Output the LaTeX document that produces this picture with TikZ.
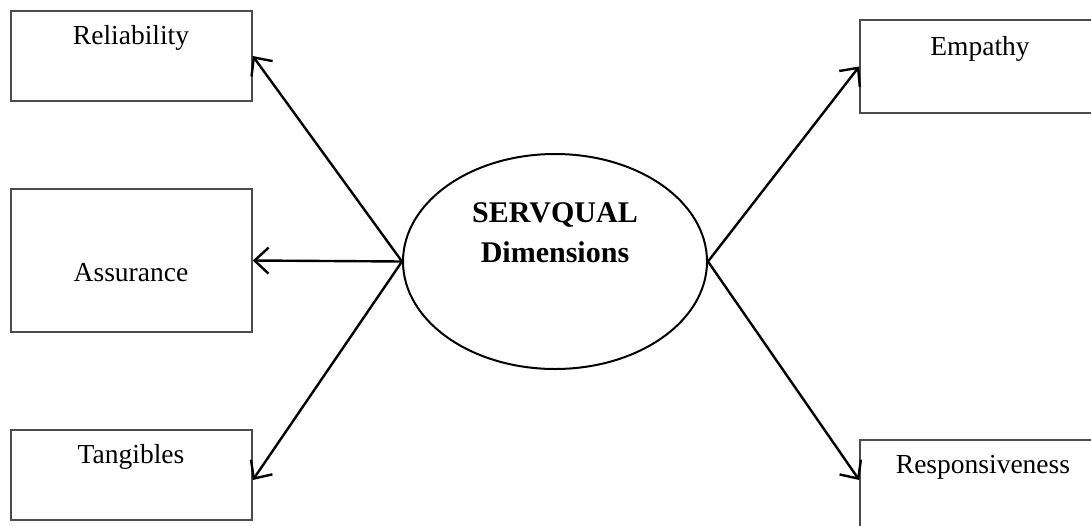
\documentclass[tikz,border=0pt]{standalone}
\usepackage{fontspec}
\setmainfont{Liberation Serif}
\usetikzlibrary{shapes.geometric,arrows.meta}
\begin{document}
\begin{tikzpicture}[x=1pt,y=-1pt,
  box/.style={draw=black!70,line width=1.6pt,rectangle,inner sep=0pt},
  lbl/.style={font=\fontsize{27.5}{30}\selectfont,inner sep=0pt},
  blbl/.style={font=\fontsize{30}{34}\bfseries\selectfont,inner sep=0pt},
  conn/.style={draw=black,line width=2.4pt,-{Straight Barb[length=14pt,width=26pt,line width=2.4pt]}}]
\useasboundingbox (0,0) rectangle (1091,525);
\clip (0,0) rectangle (1091,525);
% boxes
\node[box,minimum width=241pt,minimum height=90pt] (rel) at (131.5,56) {};
\node[box,minimum width=241pt,minimum height=143pt] (ass) at (131.5,260.5) {};
\node[box,minimum width=241pt,minimum height=90pt] (tan) at (131.5,475) {};
\node[box,minimum width=240pt,minimum height=93pt] (emp) at (980,66.5) {};
\node[box,minimum width=240pt,minimum height=120pt] (res) at (980,500) {};
% labels
\node[lbl] (trel) at (131,38) {Reliability};
\node[lbl] (tass) at (131,273) {Assurance};
\node[lbl] (ttan) at (131,457) {Tangibles};
\node[lbl] (temp) at (980,49) {Empathy};
\node[lbl] (tres) at (983,467) {Responsiveness};
% ellipse
\node[draw=black,line width=2pt,ellipse,minimum width=304pt,minimum height=215pt,inner sep=0pt] (e) at (555,261.5) {};
\node[blbl] (t1) at (555,215) {SERVQUAL};
\node[blbl] (t2) at (555,252) {Dimensions};
% connectors
\coordinate (resin) at (res.west |- 0,480);
\coordinate (tanin) at (tan.east |- 0,480);
\draw[conn] (e.west) -- (rel.east);
\draw[conn] (e.west) -- (ass.east);
\draw[conn] (e.west) -- (tanin);
\draw[conn] (e.east) -- (emp.west);
\draw[conn] (e.east) -- (resin);
\end{tikzpicture}
\end{document}
